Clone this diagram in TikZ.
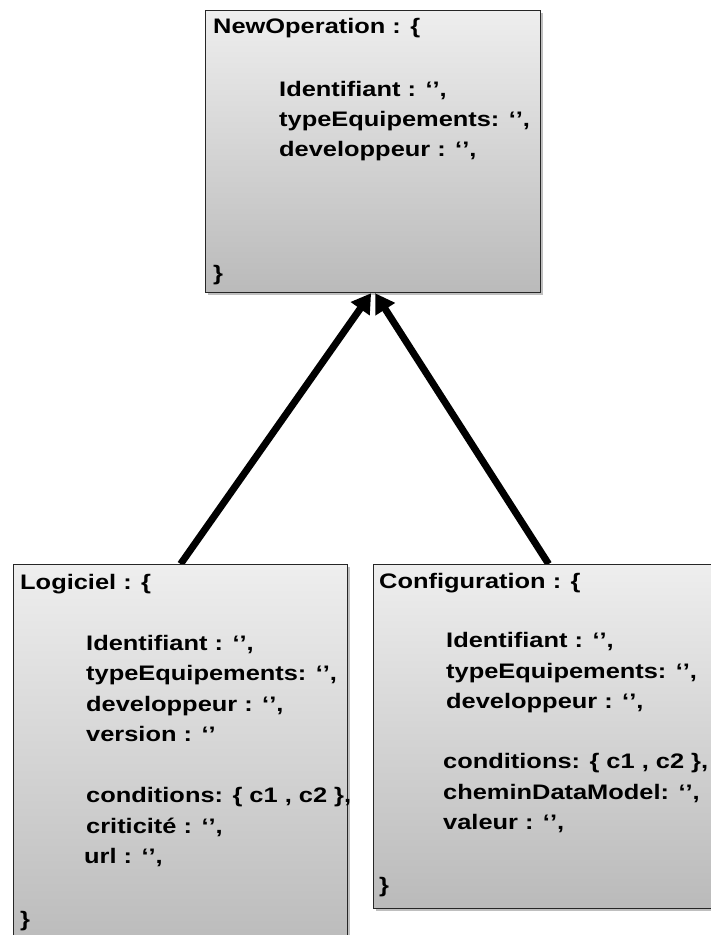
\documentclass[tikz,border=0pt]{standalone}
\usepackage{fontspec}
\setmainfont{Liberation Sans}[FakeStretch=1.21]
\usetikzlibrary{arrows.meta,shadows,calc,backgrounds}
\definecolor{gtop}{RGB}{238,238,238}
\definecolor{gbot}{RGB}{186,186,186}
\tikzset{
  classbox/.style={draw=black!85, line width=1.2pt, top color=gtop, bottom color=gbot,
    anchor=north west, inner sep=0pt,
    drop shadow={shadow xshift=2pt, shadow yshift=-2pt, opacity=0.25, fill=black}},
  txt/.style={anchor=base west, inner sep=0pt, font=\fontsize{21}{25}\selectfont\bfseries},
  inherit/.style={line width=7pt, -{Triangle[length=19pt,width=22pt]}},
}
\begin{document}
\begin{tikzpicture}[x=1pt,y=-1pt]
\useasboundingbox (0,0) rectangle (711,935);
\clip (0,0) rectangle (711,935);
% boxes
\node[classbox, minimum width=335pt, minimum height=282pt] (top) at (205,10) {};
\node[classbox, minimum width=334pt, minimum height=390pt] (log) at (13,564) {};
\node[classbox, minimum width=350pt, minimum height=344pt] (conf) at (373,564) {};
% arrows
\begin{scope}[on background layer]
\draw[inherit] (log.north) -- ($(top.south)+(-2,0)$);
\draw[inherit] (conf.north) -- ($(top.south)+(2,0)$);
\end{scope}
% top box text
\node[txt] (t0) at (213,33) {NewOperation : \{};
\node[txt] (t1) at (279,96) {Identifiant : ‘’,};
\node[txt] (t2) at (279,126) {typeEquipements: ‘’,};
\node[txt] (t3) at (279,156) {developpeur : ‘’,};
\node[txt] (t4) at (213,280) {\}};
% Logiciel text
\node[txt] (l0) at (20,589) {Logiciel : \{};
\node[txt] (l1) at (86,650) {Identifiant : ‘’,};
\node[txt] (l2) at (86,680) {typeEquipements: ‘’,};
\node[txt] (l3) at (86,711) {developpeur : ‘’,};
\node[txt] (l4) at (86,741) {version : ‘’};
\node[txt] (l5) at (86,802) {conditions: \{ c1 , c2 \},};
\node[txt] (l6) at (86,833) {criticité : ‘’,};
\node[txt] (l7) at (84,863) {url : ‘’,};
\node[txt] (l8) at (20,926) {\}};
% Configuration text
\node[txt] (c0) at (379,588) {Configuration : \{};
\node[txt] (c1) at (446,647) {Identifiant : ‘’,};
\node[txt] (c2) at (446,678) {typeEquipements: ‘’,};
\node[txt] (c3) at (446,708) {developpeur : ‘’,};
\node[txt] (c4) at (443,768) {conditions: \{ c1 , c2 \},};
\node[txt] (c5) at (443,799) {cheminDataModel: ‘’,};
\node[txt] (c6) at (443,829) {valeur : ‘’,};
\node[txt] (c7) at (379,892) {\}};
\end{tikzpicture}
\end{document}
